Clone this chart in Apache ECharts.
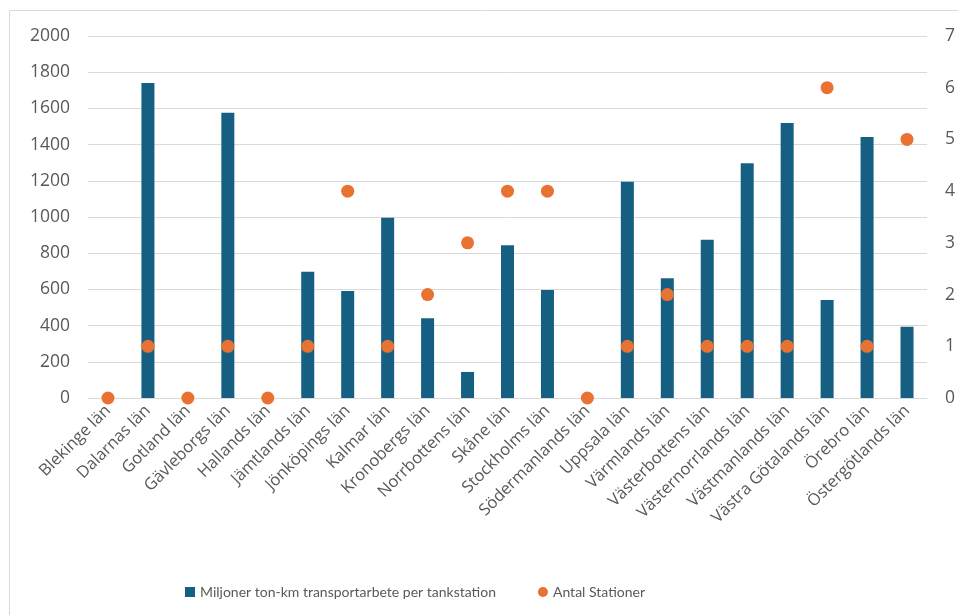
<!DOCTYPE html>
<html><head><meta charset="utf-8">
<script src="https://cdn.jsdelivr.net/npm/echarts@6/dist/echarts.min.js"></script>
<style>html,body{margin:0;padding:0;background:#fff}#c{width:958px;height:615px}</style>
</head><body><div id="c"></div>
<script>
const categories = ["Blekinge län","Dalarnas län","Gotland län","Gävleborgs län","Hallands län","Jämtlands län","Jönköpings län","Kalmar län","Kronobergs län","Norrbottens län","Skåne län","Stockholms län","Södermanlands län","Uppsala län","Värmlands län","Västerbottens län","Västernorrlands län","Västmanlands län","Västra Götalands län","Örebro län","Östergötlands län"];
const transport = [0,1740,0,1576,0,698,591,996,440,144,844,597,0,1195,661,875,1297,1519,541,1442,394];
const stations = [0,1,0,1,0,1,4,1,2,3,4,4,0,1,2,1,1,1,6,1,5];
const leftTicks = [0,2000,200];
const rightTicks = [0,7,1];
const font = "'Open Sans', sans-serif";
const chart = echarts.init(document.getElementById('c'));
chart.setOption({
  animation:false,
  graphic:[{type:'rect',shape:{x:9.5,y:10.5,width:1000,height:700},style:{fill:'none',stroke:'#d9d9d9',lineWidth:1}}],
  grid:{left:88,right:30,top:36,bottom:217},
  legend:{bottom:11,left:180,itemGap:42,itemWidth:10,itemHeight:10,
    textStyle:{color:'#595959',fontSize:14,fontFamily:"Lato, sans-serif"},
    data:[{name:'Miljoner ton-km transportarbete per tankstation',icon:'rect'},{name:'Antal Stationer',icon:'circle'}]},
  xAxis:{type:'category',data:categories,
    axisLine:{show:true,lineStyle:{color:'#d9d9d9'}},axisTick:{show:false},
    axisLabel:{interval:0,rotate:45,color:'#595959',fontSize:16.5,fontFamily:font,margin:10}},
  yAxis:[
    {type:'value',min:leftTicks[0],max:leftTicks[1],interval:leftTicks[2],
     axisLabel:{color:'#595959',fontSize:17.5,fontFamily:font,margin:18,formatter:v=>String(v)},
     splitLine:{lineStyle:{color:'#d9d9d9',width:1}},axisLine:{show:false},axisTick:{show:false}},
    {type:'value',min:rightTicks[0],max:rightTicks[1],interval:rightTicks[2],
     axisLabel:{color:'#595959',fontSize:17.5,fontFamily:font,margin:18},
     splitLine:{show:false},axisLine:{show:false},axisTick:{show:false}}
  ],
  series:[
    {name:'Miljoner ton-km transportarbete per tankstation',type:'bar',data:transport,barWidth:13,
     itemStyle:{color:'#156082'}},
    {name:'Antal Stationer',type:'scatter',yAxisIndex:1,data:stations,symbolSize:13,
     itemStyle:{color:'#E97132',opacity:1}}
  ]
});
</script></body></html>
